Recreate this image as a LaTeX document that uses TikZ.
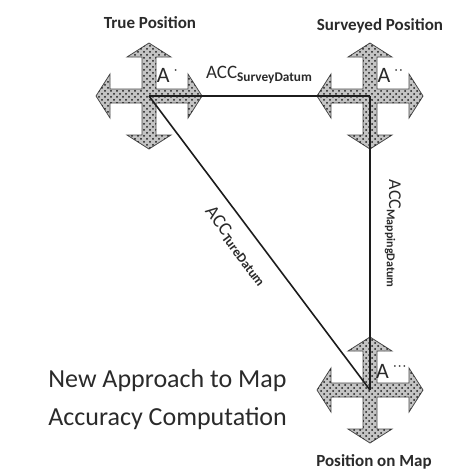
\documentclass[tikz,border=0pt]{standalone}
\usepackage{fontspec}
\setmainfont{Carlito}
\usetikzlibrary{patterns}
\definecolor{ink}{HTML}{1C1C1C}
\definecolor{stipple}{HTML}{C4C4C4}
\definecolor{graytext}{HTML}{2A2A2A}
% four-way arrow cross round a position
\newcommand{\posmark}[1]{%
  \begin{scope}[shift={(#1)}]
    \filldraw[draw=ink!80,line width=.4pt,fill=stipple,
      postaction={pattern=crosshatch dots,pattern color=ink}]
      (7,7) -- (39,7) -- (39,22) -- (53,0) -- (39,-22) -- (39,-7)
      -- (7,-7) -- (7,-39) -- (22,-39) -- (0,-53) -- (-22,-39) -- (-7,-39)
      -- (-7,-7) -- (-39,-7) -- (-39,-22) -- (-53,0) -- (-39,22) -- (-39,7)
      -- (-7,7) -- (-7,39) -- (-22,39) -- (0,53) -- (22,39) -- (7,39) -- cycle;
  \end{scope}}

\begin{document}
\begin{tikzpicture}[x=0.5pt,y=0.5pt,
    head/.style={font=\fontsize{8.5}{10}\selectfont\bfseries,text=graytext},
    ptlabel/.style={font=\fontsize{11}{12}\selectfont,text=graytext},
    acc/.style={font=\fontsize{9.5}{11}\selectfont,text=graytext,inner sep=1pt}]
  \useasboundingbox (0,0) rectangle (468,-472);
  \coordinate (true) at (149,-96);
  \coordinate (surv) at (370,-96);
  \coordinate (map) at (370,-390);
  \posmark{true} \posmark{surv} \posmark{map}
  \draw[ink,line width=.8pt] (true) -- node[acc,above=5pt] {ACC\textsubscript{\bfseries SurveyDatum}} (surv);
  \draw[ink,line width=.8pt] (surv) -- node[acc,sloped,above=6pt,pos=.47,font=\fontsize{9}{10}\selectfont] {ACC\textsubscript{\bfseries MappingDatum}} (map);
  \draw[ink,line width=.8pt] (true) -- node[acc,sloped,below=5pt,pos=.47] {ACC\textsubscript{\bfseries TureDatum}} (map);
  \node[head] (truelbl) at (150,-23) {True Position};
  \node[head] (survlbl) at (380,-26) {Surveyed Position};
  \node[head] (maplbl) at (374,-462) {Position on Map};
  \node[ptlabel] (atrue) at (168,-75) {A\,$^{\cdot}$};
  \node[ptlabel] (asurv) at (391,-75) {A\,$^{\cdot\cdot}$};
  \node[ptlabel] (amap) at (392,-371) {A\,$^{\cdot\cdot\cdot}$};
  \node[anchor=west,inner sep=0,align=left,text=graytext,
    font=\fontsize{13}{19}\selectfont] (title) at (48,-400)
    {New Approach to Map\\Accuracy Computation};
\end{tikzpicture}
\end{document}
